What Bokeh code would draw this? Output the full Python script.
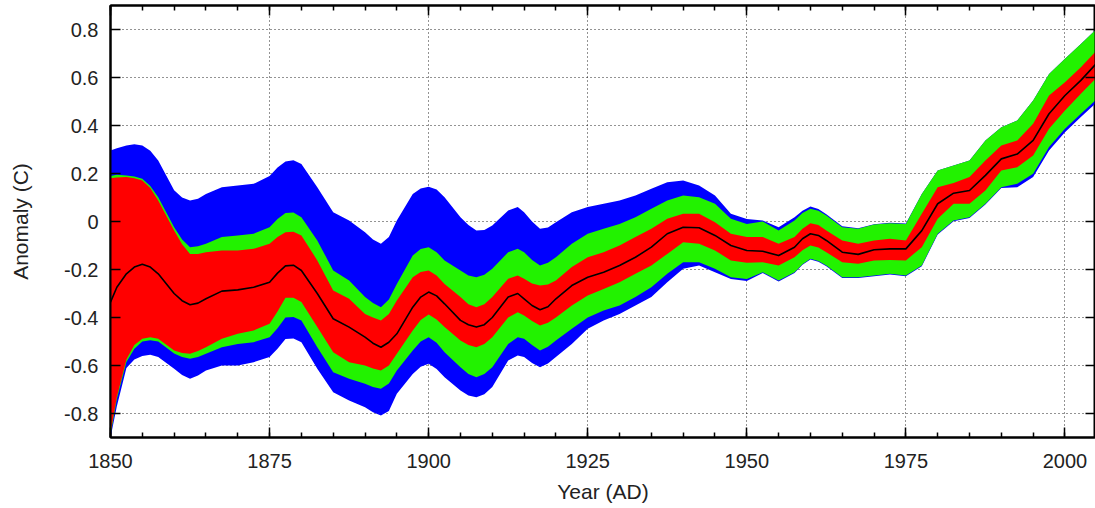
from bokeh.plotting import figure
from bokeh.models import Range1d, FixedTicker, LinearAxis, ColumnDataSource
from bokeh.embed import file_html
from bokeh.resources import INLINE

# Values every 2.5 years
years = [1850, 1851, 1852.5, 1855, 1857.5, 1860, 1862.5, 1865, 1867.5, 1870,
         1872.5, 1875, 1877.5, 1880, 1882.5, 1885, 1887.5, 1890, 1892.5, 1895,
         1897.5, 1900, 1902.5, 1905, 1907.5, 1910, 1912.5, 1914, 1915, 1917.5,
         1920, 1922.5, 1925, 1927.5, 1930, 1932.5, 1935, 1937.5, 1940, 1942.5,
         1945, 1947.5, 1950, 1952.5, 1955, 1957.5, 1960, 1962.5, 1965, 1967.5,
         1970, 1972.5, 1975, 1977.5, 1980, 1982.5, 1985, 1987.5, 1990, 1992.5,
         1995, 1997.5, 2000, 2002.5, 2005]

center = [-0.336, -0.274, -0.218, -0.178, -0.218, -0.300, -0.347, -0.322, -0.290, -0.285,
          -0.274, -0.253, -0.185, -0.204, -0.300, -0.405, -0.440, -0.482, -0.524, -0.468,
          -0.357, -0.294, -0.343, -0.412, -0.440, -0.400, -0.315, -0.300, -0.322, -0.368,
          -0.322, -0.267, -0.232, -0.211, -0.183, -0.149, -0.107, -0.051, -0.024, -0.026,
          -0.058, -0.100, -0.121, -0.124, -0.142, -0.107, -0.051, -0.079, -0.128, -0.137,
          -0.118, -0.114, -0.114, -0.038, 0.074, 0.118, 0.129, 0.192, 0.261, 0.281,
          0.338, 0.449, 0.525, 0.588, 0.660]

red_hi = [0.180, 0.183, 0.185, 0.171, 0.088, -0.038, -0.135, -0.128, -0.121, -0.121,
          -0.114, -0.093, -0.045, -0.058, -0.162, -0.288, -0.322, -0.385, -0.412, -0.329,
          -0.232, -0.204, -0.260, -0.315, -0.357, -0.315, -0.239, -0.225, -0.239, -0.267,
          -0.246, -0.190, -0.149, -0.128, -0.100, -0.065, -0.030, 0.011, 0.032, 0.032,
          -0.003, -0.051, -0.065, -0.065, -0.093, -0.065, -0.007, -0.038, -0.079, -0.093,
          -0.079, -0.072, -0.079, 0.032, 0.143, 0.160, 0.185, 0.254, 0.317, 0.338,
          0.407, 0.525, 0.580, 0.643, 0.713]

red_lo = [-0.880, -0.730, -0.575, -0.489, -0.489, -0.538, -0.551, -0.524, -0.489, -0.468,
          -0.454, -0.426, -0.318, -0.335, -0.440, -0.545, -0.586, -0.600, -0.621, -0.551,
          -0.454, -0.388, -0.440, -0.496, -0.524, -0.482, -0.400, -0.378, -0.392, -0.433,
          -0.400, -0.350, -0.308, -0.281, -0.253, -0.218, -0.183, -0.135, -0.086, -0.093,
          -0.121, -0.162, -0.172, -0.170, -0.183, -0.149, -0.100, -0.128, -0.170, -0.176,
          -0.162, -0.160, -0.162, -0.107, 0.011, 0.074, 0.074, 0.129, 0.212, 0.226,
          0.275, 0.386, 0.462, 0.532, 0.600]

green_hi = [0.190, 0.195, 0.192, 0.178, 0.101, -0.024, -0.107, -0.093, -0.065, -0.058,
            -0.051, -0.024, 0.035, 0.018, -0.079, -0.204, -0.246, -0.315, -0.357, -0.260,
            -0.142, -0.107, -0.162, -0.204, -0.232, -0.197, -0.128, -0.114, -0.128, -0.183,
            -0.149, -0.093, -0.051, -0.030, -0.010, 0.018, 0.053, 0.088, 0.108, 0.101,
            0.074, 0.011, -0.010, 0.000, -0.038, 0.004, 0.053, 0.025, -0.024, -0.030,
            -0.013, -0.007, -0.010, 0.115, 0.212, 0.233, 0.254, 0.338, 0.393, 0.421,
            0.504, 0.615, 0.678, 0.740, 0.803]

green_lo = [-0.890, -0.740, -0.585, -0.500, -0.500, -0.550, -0.572, -0.551, -0.524, -0.510,
            -0.503, -0.482, -0.400, -0.412, -0.524, -0.628, -0.655, -0.676, -0.697, -0.621,
            -0.538, -0.482, -0.545, -0.607, -0.649, -0.607, -0.510, -0.482, -0.489, -0.538,
            -0.496, -0.447, -0.400, -0.371, -0.350, -0.315, -0.274, -0.218, -0.170, -0.170,
            -0.197, -0.232, -0.240, -0.211, -0.246, -0.211, -0.155, -0.183, -0.232, -0.232,
            -0.225, -0.218, -0.225, -0.183, -0.051, 0.004, 0.018, 0.074, 0.143, 0.157,
            0.199, 0.310, 0.386, 0.449, 0.510]

blue_hi = [0.296, 0.305, 0.317, 0.317, 0.254, 0.130, 0.088, 0.115, 0.143, 0.150,
           0.157, 0.190, 0.250, 0.240, 0.143, 0.039, 0.004, -0.045, -0.093, 0.004,
           0.115, 0.145, 0.101, 0.018, -0.038, -0.017, 0.046, 0.060, 0.039, -0.030,
           -0.003, 0.039, 0.060, 0.074, 0.088, 0.108, 0.136, 0.164, 0.171, 0.150,
           0.108, 0.032, 0.010, 0.004, -0.024, 0.018, 0.062, 0.030, -0.020, -0.028,
           -0.011, -0.005, -0.008, 0.115, 0.212, 0.233, 0.254, 0.338, 0.393, 0.421,
           0.504, 0.615, 0.678, 0.740, 0.803]

blue_lo = [-0.900, -0.770, -0.610, -0.560, -0.565, -0.614, -0.655, -0.621, -0.600, -0.600,
           -0.586, -0.565, -0.490, -0.503, -0.614, -0.711, -0.746, -0.774, -0.808, -0.718,
           -0.635, -0.593, -0.649, -0.704, -0.732, -0.690, -0.579, -0.558, -0.565, -0.607,
           -0.565, -0.510, -0.447, -0.412, -0.385, -0.350, -0.315, -0.253, -0.197, -0.183,
           -0.211, -0.240, -0.248, -0.215, -0.250, -0.215, -0.158, -0.186, -0.235, -0.235,
           -0.228, -0.221, -0.228, -0.186, -0.054, 0.001, 0.015, 0.071, 0.140, 0.143,
           0.185, 0.296, 0.372, 0.435, 0.497]

# Extra readings around peaks and troughs
years_x = [1853.75, 1856.25, 1861.25, 1863.75, 1876.25, 1878.75, 1891.25, 1893.75,
           1898.75, 1901.25, 1906.25, 1908.75, 1916.25, 1918.75, 1958.75, 1961.25]
center_x = [-0.190, -0.190, -0.330, -0.340, -0.215, -0.182, -0.507, -0.503,
            -0.315, -0.310, -0.430, -0.430, -0.350, -0.355, -0.072, -0.058]
red_hi_x = [0.180, 0.140, -0.095, -0.135, -0.065, -0.043, -0.400, -0.385,
            -0.210, -0.225, -0.345, -0.345, -0.258, -0.262, -0.030, -0.015]
red_lo_x = [-0.515, -0.482, -0.548, -0.540, -0.375, -0.318, -0.612, -0.600,
            -0.410, -0.408, -0.515, -0.510, -0.415, -0.422, -0.120, -0.108]
green_hi_x = [0.188, 0.148, -0.075, -0.103, 0.010, 0.038, -0.340, -0.325,
              -0.115, -0.128, -0.225, -0.222, -0.160, -0.172, 0.035, 0.045]
green_lo_x = [-0.530, -0.495, -0.565, -0.565, -0.445, -0.398, -0.690, -0.675,
              -0.500, -0.505, -0.635, -0.635, -0.515, -0.522, -0.178, -0.165]
blue_hi_x = [0.322, 0.295, 0.100, 0.095, 0.225, 0.255, -0.075, -0.065,
             0.138, 0.133, -0.015, -0.035, 0.000, -0.025, 0.045, 0.052]
blue_lo_x = [-0.575, -0.555, -0.640, -0.642, -0.530, -0.488, -0.795, -0.790,
             -0.605, -0.615, -0.725, -0.720, -0.590, -0.592, -0.180, -0.168]

x_ticks = [1850, 1875, 1900, 1925, 1950, 1975, 2000]
x_minor = list(range(1850, 2006, 5))
y_ticks = [-0.8, -0.6, -0.4, -0.2, 0, 0.2, 0.4, 0.6, 0.8]
y_tick_labels = ["-0.8", "-0.6", "-0.4", "-0.2", "0", "0.2", "0.4", "0.6", "0.8"]

x_label = "Year (AD)"
y_label = "Anomaly (C)"

rows = sorted(
    list(zip(years, center, red_hi, red_lo, green_hi, green_lo, blue_hi, blue_lo)) +
    list(zip(years_x, center_x, red_hi_x, red_lo_x, green_hi_x, green_lo_x, blue_hi_x, blue_lo_x))
)
cols = list(zip(*rows))
src = ColumnDataSource(dict(x=list(cols[0]), c=list(cols[1]), rh=list(cols[2]), rl=list(cols[3]),
                            gh=list(cols[4]), gl=list(cols[5]), bh=list(cols[6]), bl=list(cols[7])))

FONT = "Liberation Sans"

p = figure(width=1095, height=508, output_backend="svg", toolbar_location=None,
           x_range=Range1d(1850, 2004.8), y_range=Range1d(-0.9, 0.9),
           min_border_left=110, min_border_right=0, min_border_top=5, min_border_bottom=71)
p.background_fill_color = "white"
p.border_fill_color = "white"
p.outline_line_color = "black"
p.outline_line_width = 2

p.varea(x="x", y1="bl", y2="bh", source=src, fill_color="#0000ff")
p.varea(x="x", y1="gl", y2="gh", source=src, fill_color="#22f200")
p.varea(x="x", y1="rl", y2="rh", source=src, fill_color="#ff0000")
p.line(x="x", y="c", source=src, line_color="black", line_width=1.6, line_join="round")

xt = FixedTicker(ticks=x_ticks, minor_ticks=x_minor)
yt = FixedTicker(ticks=y_ticks, minor_ticks=[])

def style_axis(ax, ticker):
    ax.ticker = ticker
    ax.axis_line_color = "black"
    ax.axis_line_width = 2
    ax.major_tick_line_color = "black"
    ax.major_tick_line_width = 1.5
    ax.major_tick_in = 10
    ax.major_tick_out = 0
    ax.minor_tick_line_color = "black"
    ax.minor_tick_line_width = 1.5
    ax.minor_tick_in = 5
    ax.minor_tick_out = 0
    ax.major_label_text_font = FONT
    ax.major_label_text_font_size = "20px"
    ax.major_label_text_color = "#222222"
    ax.axis_label_text_font = FONT
    ax.axis_label_text_font_size = "21px"
    ax.axis_label_text_font_style = "normal"
    ax.axis_label_text_color = "#222222"

style_axis(p.xaxis[0], xt)
style_axis(p.yaxis[0], yt)
p.xaxis[0].axis_label = x_label
p.yaxis[0].axis_label = y_label
p.xaxis[0].major_label_standoff = 16
p.xaxis[0].axis_label_standoff = 9
p.yaxis[0].major_label_standoff = 12
p.yaxis[0].axis_label_standoff = 29
p.yaxis[0].major_label_overrides = {t: s for t, s in zip(y_ticks, y_tick_labels)}

for loc, tk in (("above", xt), ("right", yt)):
    ax = LinearAxis()
    style_axis(ax, tk)
    ax.major_label_text_font_size = "0px"
    ax.major_label_text_color = None
    ax.major_label_standoff = 0
    p.add_layout(ax, loc)

p.xgrid.ticker = xt
p.ygrid.ticker = yt
for g in (p.xgrid[0], p.ygrid[0]):
    g.grid_line_color = "black"
    g.grid_line_dash = "1 3"
    g.grid_line_width = 1
    g.grid_line_alpha = 0.85

open("out.html", "w").write(file_html(p, INLINE))
